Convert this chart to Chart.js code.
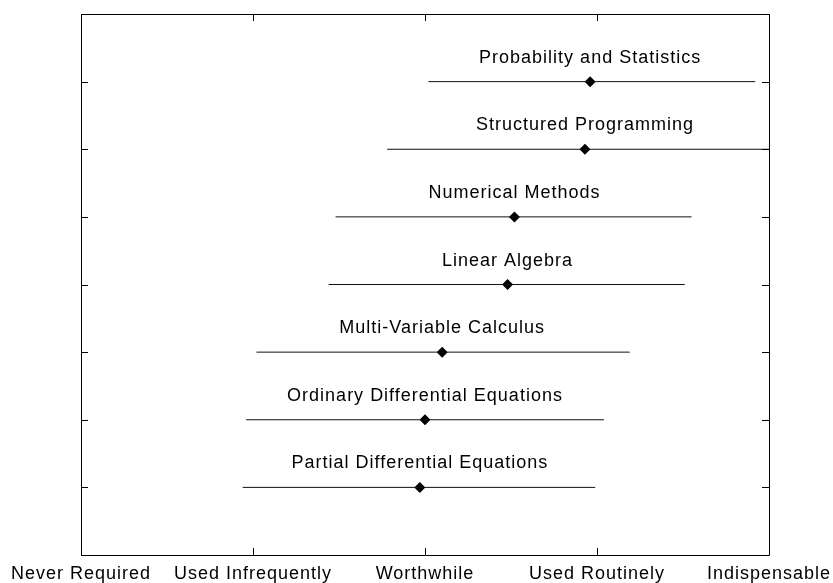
<!DOCTYPE html>
<html>
<head>
<meta charset="utf-8">
<script src="https://cdn.jsdelivr.net/npm/chart.js@4"></script>
<style>
  html, body { margin: 0; padding: 0; background: #fff; }
  canvas { display: block; }
</style>
</head>
<body>
<canvas id="surveyChart" width="833" height="583"></canvas>
<script>
// bottom row first
const categories = [
    "Partial Differential Equations",
    "Ordinary Differential Equations",
    "Multi-Variable Calculus",
    "Linear Algebra",
    "Numerical Methods",
    "Structured Programming",
    "Probability and Statistics"
];
const meanValues = [1.97, 2.00, 2.10, 2.48, 2.52, 2.93, 2.96];
const lowValues = [0.94, 0.96, 1.02, 1.44, 1.48, 1.78, 2.02];
const highValues = [2.99, 3.04, 3.19, 3.51, 3.55, 4.00, 3.92];
const tickLabels = ["Never Required", "Used Infrequently", "Worthwhile", "Used Routinely", "Indispensable"];

const FONT = "Liberation Sans, Arial, sans-serif";

const rangeSets = categories.map((name, i) => ({
    label: name,
    data: [{ x: lowValues[i], y: i + 1 }, { x: highValues[i], y: i + 1 }],
    showLine: true,
    borderColor: "#111",
    borderWidth: 1,
    pointRadius: 0
}));

const meanSet = {
    label: "mean",
    data: categories.map((name, i) => ({ x: meanValues[i], y: i + 1 })),
    showLine: false,
    pointStyle: "rectRot",
    pointRadius: 5.5,
    backgroundColor: "#000",
    borderColor: "#000",
    borderWidth: 0
};

const spacing = {
    id: "spacing",
    beforeLayout(chart) { chart.ctx.letterSpacing = "1px"; },
    beforeDraw(chart) { chart.ctx.letterSpacing = "1px"; }
};

// MATLAB style box with inward ticks
const boxAxes = {
    id: "boxAxes",
    afterDraw(chart) {
        const { ctx, chartArea: a, scales } = chart;
        const len = 7;
        ctx.save();
        ctx.strokeStyle = "#000";
        ctx.lineWidth = 1;
        ctx.beginPath();
        ctx.rect(Math.round(a.left) + 0.5, Math.round(a.top) + 0.5,
                 Math.round(a.right - a.left), Math.round(a.bottom - a.top));
        for (let i = 0; i < tickLabels.length; i++) {
            const px = Math.round(scales.x.getPixelForValue(i)) + 0.5;
            ctx.moveTo(px, a.top); ctx.lineTo(px, a.top + len);
            ctx.moveTo(px, a.bottom); ctx.lineTo(px, a.bottom - len);
        }
        for (let j = 0; j <= categories.length + 1; j++) {
            const py = Math.round(scales.y.getPixelForValue(j)) + 0.5;
            ctx.moveTo(a.left, py); ctx.lineTo(a.left + len, py);
            ctx.moveTo(a.right, py); ctx.lineTo(a.right - len, py);
        }
        ctx.stroke();
        ctx.restore();
    }
};

const rowLabels = {
    id: "rowLabels",
    afterDatasetsDraw(chart) {
        const { ctx, scales } = chart;
        ctx.save();
        ctx.letterSpacing = "1px";
        ctx.font = "18px " + FONT;
        ctx.fillStyle = "#000";
        ctx.textAlign = "center";
        ctx.textBaseline = "alphabetic";
        categories.forEach((name, i) => {
            const x = scales.x.getPixelForValue(meanValues[i]);
            const y = scales.y.getPixelForValue(i + 1) - 19;
            ctx.fillText(name, x, y);
        });
        ctx.restore();
    }
};

new Chart(document.getElementById("surveyChart"), {
    type: "scatter",
    data: { datasets: [...rangeSets, meanSet] },
    options: {
        responsive: false,
        animation: false,
        layout: { padding: { left: 81, right: 64, top: 14, bottom: 0 } },
        plugins: {
            legend: { display: false },
            tooltip: { enabled: false }
        },
        scales: {
            x: {
                type: "linear",
                min: 0,
                max: tickLabels.length - 1,
                grid: { display: false, drawTicks: false },
                border: { display: false },
                afterFit(scale) {
                    scale.paddingLeft = 0;
                    scale.paddingRight = 0;
                    scale.height = 28;
                },
                ticks: {
                    stepSize: 1,
                    padding: 8,
                    color: "#000",
                    font: { family: FONT, size: 18 },
                    maxRotation: 0,
                    autoSkip: false,
                    callback: (v) => tickLabels[v]
                }
            },
            y: {
                type: "linear",
                display: false,
                min: 0,
                max: categories.length + 1
            }
        }
    },
    plugins: [spacing, rowLabels, boxAxes]
});
</script>
</body>
</html>
